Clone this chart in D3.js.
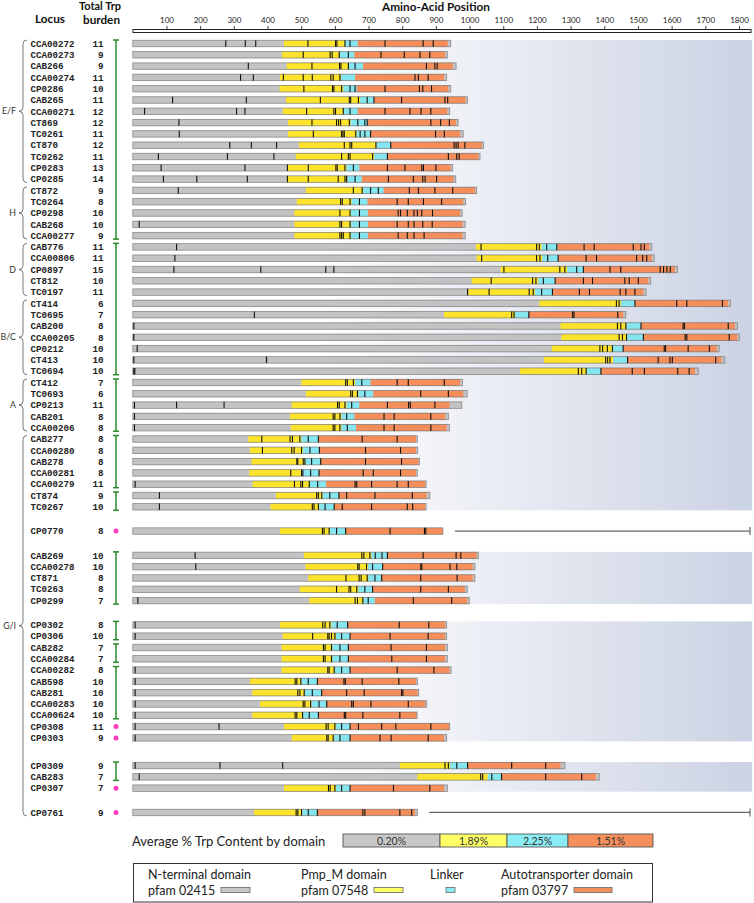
<!DOCTYPE html>
<html><head><meta charset="utf-8">
<script src="https://cdn.jsdelivr.net/npm/d3@7"></script>
<style>body{margin:0;background:#fff;} svg{display:block;}</style>
</head><body><svg id="chart" width="754" height="903"></svg>
<script>
// ---------------- DATA ----------------
const loci = ["CCA00272","CCA00273","CAB266","CCA00274","CP0286","CAB265","CCA00271","CT869","TC0261","CT870","TC0262","CP0283","CP0285",
"CT872","TC0264","CP0298","CAB268","CCA00277",
"CAB776","CCA00806","CP0897","CT812","TC0197",
"CT414","TC0695","CAB200","CCA00205","CP0212","CT413","TC0694",
"CT412","TC0693","CP0213","CAB201","CCA00206",
"CAB277","CCA00280","CAB278","CCA00281","CCA00279","CT874","TC0267","CP0770",
"CAB269","CCA00278","CT871","TC0263","CP0299",
"CP0302","CP0306","CAB282","CCA00284","CCA00282","CAB598","CAB281","CCA00283","CCA00624","CP0308","CP0303",
"CP0309","CAB283","CP0307","CP0761"];
const burden = [11,9,9,11,10,11,12,12,11,12,11,13,14, 9,8,10,10,9, 11,11,15,10,11, 6,7,8,8,10,10,10, 7,6,11,8,8,
8,8,8,8,11,9,10,8, 10,10,8,8,7, 8,10,7,7,8,10,10,10,10,11,9, 9,7,7,9];
// protein length (aa)
const protLength = [944,934,960,932,944,994,941,966,981,1041,1031,950,959, 1021,988,978,987,987, 1541,1548,1617,1538,1524,
1775,1464,1795,1801,1741,1758,1679, 979,993,977,937,940, 845,846,851,845,871,882,871,921, 1026,1016,1016,993,999,
932,932,934,934,945,845,849,873,844,941,932, 1283,1385,934,845];
// start of Pmp_M domain (end of N-terminal domain)
const pmpStart = [449,443,457,437,436,455,446,461,461,494,484,459,457, 514,487,480,480,480, 1019,1021,1092,1006,996,
1207,924,1270,1273,1244,1221,1150, 501,514,472,467,469, 343,348,353,346,356,425,409,437, 508,513,521,496,524,
437,445,442,442,442,348,355,378,355,449,472, 793,845,449,360];
// start of linker
const linkerStart = [630,615,640,618,625,675,625,647,665,724,717,635,637, 684,650,648,648,648, 1214,1216,1290,1204,1194,
1449,1135,1466,1468,1424,1427,1348, 660,670,635,620,620, 501,505,511,504,526,564,554,585, 709,699,699,670,685,
590,603,593,593,600,501,511,531,506,603,598, 942,1054,603,504];
// start of autotransporter domain
const autoStart = [668,658,684,660,665,716,668,696,706,766,756,673,680, 745,697,698,698,698, 1261,1263,1338,1254,1246,
1491,1176,1509,1516,1456,1469,1390, 706,714,673,658,663, 551,554,558,553,574,612,598,632, 756,742,739,712,719,
638,645,640,640,645,548,561,576,551,645,645, 994,1095,645,548];
// end of autotransporter domain
const autoEnd = [935,927,950,924,937,988,934,960,972,1036,1026,944,952, 1016,981,972,979,979, 1534,1541,1610,1531,1516,
1768,1456,1788,1795,1734,1748,1669, 972,981,940,927,932, 841,841,848,841,868,872,868,920, 1021,1009,1009,986,993,
927,927,927,927,940,841,845,868,843,940,924, 1270,1375,924,838];
// tryptophan positions
const trpPositions = [
[276,334,365,520,602,606,630,645,749,862,892],
[506,586,592,613,640,737,806,853,882],
[343,532,614,618,640,660,872,897,904],
[320,358,447,506,533,588,595,615,838,848,877],
[508,593,597,620,645,660,749,851,861,887],
[118,337,557,643,647,670,696,716,798,927,935],
[35,308,333,516,597,602,625,645,749,823,856,885],
[137,532,605,611,617,643,668,689,696,885,914,940],
[138,536,620,624,628,662,675,689,706,899,925],
[288,352,427,628,645,650,722,766,954,960,966,986],
[76,281,419,620,640,645,712,756,937,962,969],
[84,333,459,521,603,607,630,655,756,808,858,863,900],
[91,190,340,459,521,610,630,635,660,759,833,861,868,902],
[135,655,681,706,729,821,848,897,950],
[617,622,645,673,785,818,863,917],
[615,645,673,788,795,815,835,845,858,890],
[19,615,620,645,673,785,818,835,861,889],
[615,620,625,645,673,788,815,835,865],
[130,1034,1199,1207,1229,1259,1340,1370,1486,1509,1519],
[125,1036,1199,1209,1232,1263,1346,1377,1496,1514,1526],
[122,380,573,597,1102,1268,1283,1318,1338,1417,1449,1566,1576,1586,1596],
[1064,1187,1197,1219,1254,1338,1365,1461,1474,1501],
[994,1058,1177,1189,1214,1246,1326,1356,1447,1464,1491],
[1436,1444,1491,1615,1645,1751],
[361,1125,1132,1176,1306,1310,1440],
[3,1439,1449,1464,1509,1634,1638,1768],
[3,1444,1454,1466,1516,1640,1645,1771],
[13,1387,1395,1409,1424,1456,1578,1582,1649,1712],
[3,397,1404,1410,1417,1469,1560,1595,1602,1731],
[3,6,1323,1333,1346,1390,1483,1519,1618,1652],
[632,637,655,680,785,818,925],
[647,652,667,689,855,937],
[5,130,271,608,613,630,650,756,819,824,897],
[5,595,600,615,635,746,776,885],
[5,595,600,615,637,746,776,885],
[383,467,474,496,521,551,681,785],
[385,472,479,501,526,554,691,795],
[487,490,506,511,531,558,691,798],
[469,501,505,528,553,684,714,795],
[7,480,499,504,524,549,660,665,709,785,818],
[79,546,551,561,585,612,635,719,830],
[79,533,538,551,571,598,622,709,815,831],
[563,568,583,605,632,764,866,870],
[185,680,686,704,720,740,756,862,960,974],
[187,668,672,694,712,742,855,858,942,962],
[633,672,678,696,719,739,855,963],
[605,642,647,665,689,712,855,937],
[15,660,667,683,699,833,947],
[7,564,571,585,607,638,791,879],
[7,534,579,583,590,600,620,645,764,877],
[566,571,590,615,640,767,872],
[566,571,590,615,640,769,872],
[7,579,583,598,620,645,785,894],
[7,482,487,499,521,548,627,631,681,790],
[7,490,496,509,533,561,635,687,798,802],
[7,506,511,528,553,576,650,655,707,818],
[7,482,487,504,524,551,628,632,683,793],
[7,256,574,580,600,620,645,670,739,781,885],
[7,576,580,595,615,645,734,767,877],
[7,259,445,927,937,962,994,1125,1226],
[19,1033,1039,1066,1095,1226,1333],
[581,586,600,620,645,774,882],
[485,490,501,521,548,683,689,793,828]];

// grouping (row index ranges)
const familyNames = ["E/F","H","D","B/C","A","G/I"];
const familyFirst = [0,13,18,23,30,35];
const familyLast  = [12,17,22,29,34,62];
const cladeFirst = [0,18,30,35,40,43,48,50,52,59];
const cladeLast  = [17,29,34,39,41,47,49,51,56,60];
const singletons = [42,57,58,61,62];
const gapRows = [42,43,48,59,62];
const panelFirst = [0,43,48,59];
const panelLast  = [41,47,58,61];
const spanLineRows = [42,62];
const axisTicks = [100,200,300,400,500,600,700,800,900,1000,1100,1200,1300,1400,1500,1600,1700,1800];
const avgTrpLabels = ["0.20%","1.89%","2.25%","1.51%"];
const legendNames = ["N-terminal domain","Pmp_M domain","Linker","Autotransporter domain"];
const legendPfam = ["pfam 02415","pfam 07548","","pfam 03797"];

// ---------------- LAYOUT / STYLE ----------------
const C = {gray:"#c3c3c3", yellow:"#fde32c", cyan:"#85e6f0", orange:"#f58e5a"};
const LC = {gray:"#c8c8c8", yellow:"#ffff66", cyan:"#8cecf4", orange:"#f5905c"};
const svg = d3.select("#chart");
const defs = svg.append("defs");
const grad = defs.append("linearGradient").attr("id","bg").attr("gradientUnits","userSpaceOnUse")
  .attr("x1",133).attr("x2",752).attr("y1",0).attr("y2",0);
grad.append("stop").attr("offset",0).attr("stop-color","#ffffff");
grad.append("stop").attr("offset",0.3).attr("stop-color","#ffffff");
grad.append("stop").attr("offset",1).attr("stop-color","#cbd2e3");

const x = d3.scaleLinear().domain([0,1800]).range([132.8,739]);
const slotY = d3.scaleLinear().domain([0,1]).range([43.5,54.8]);
const gapSize = {42:1.15,43:1.15,48:1.15,59:1.45,62:1.15};
function rowY(i){ let s=i; gapRows.forEach(g=>{ if(g<=i) s+=gapSize[g]; }); return slotY(s); }
const barH = 6.5;
const fnt = "Lato, 'Open Sans', sans-serif";

// panels
panelFirst.forEach((f,k)=>{
  const y1 = rowY(f)-3.5, y2 = rowY(panelLast[k])+3.5;
  svg.append("rect").attr("x",133).attr("y",y1).attr("width",619).attr("height",y2-y1).attr("fill","url(#bg)");
});

// headers
const hdr = svg.append("g").attr("font-family",fnt).attr("font-weight","bold").attr("font-size",11).attr("fill","#111");
hdr.append("text").attr("x",35).attr("y",23).attr("font-size",11.5).attr("textLength",30).attr("lengthAdjust","spacingAndGlyphs").text("Locus");
hdr.append("text").attr("x",79).attr("y",9.5).attr("textLength",42).attr("lengthAdjust","spacingAndGlyphs").text("Total Trp");
hdr.append("text").attr("x",83).attr("y",23.5).attr("textLength",37).attr("lengthAdjust","spacingAndGlyphs").text("burden");
hdr.append("text").attr("x",382).attr("y",10.5).attr("font-size",12).attr("textLength",108).attr("lengthAdjust","spacingAndGlyphs").text("Amino-Acid Position");

// axis
svg.append("rect").attr("x",133).attr("y",29.5).attr("width",618).attr("height",3).attr("fill","#fff").attr("stroke","#222").attr("stroke-width",1);
const ax = svg.append("g").attr("transform","translate(0,29)")
  .call(d3.axisTop(x).tickValues(axisTicks).tickFormat(d3.format("d")).tickSize(3).tickPadding(3));
ax.select(".domain").remove();
ax.selectAll("text").attr("font-family",fnt).attr("font-size",8).attr("fill","#222");
ax.selectAll("line").attr("stroke","#444");

// rows
const rows = svg.append("g");
loci.forEach((name,i)=>{
  const y = rowY(i);
  rows.append("text").attr("x",30.5).attr("y",y+3.2).attr("font-family","'Liberation Mono','Courier New',monospace")
    .attr("font-weight","bold").attr("font-size",9.2).attr("fill","#222").text(name);
  rows.append("text").attr("x",103.5).attr("y",y+3.2).attr("text-anchor","end").attr("font-family","'Liberation Mono','Courier New',monospace")
    .attr("font-weight","bold").attr("font-size",9.2).attr("fill","#222").text(burden[i]);
  const g = rows.append("g").attr("transform",`translate(0,${y-barH/2})`);
  g.append("rect").attr("x",x(0)).attr("width",x(protLength[i])-x(0)).attr("height",barH).attr("fill",C.gray);
  const segs = [[pmpStart[i],linkerStart[i],C.yellow],[linkerStart[i],autoStart[i],C.cyan],[autoStart[i],autoEnd[i],C.orange]];
  segs.forEach(s=> g.append("rect").attr("x",x(s[0])).attr("width",x(s[1])-x(s[0])).attr("height",barH).attr("fill",s[2]));
  g.append("rect").attr("x",x(0)).attr("width",x(protLength[i])-x(0)).attr("height",barH).attr("fill","none")
    .attr("stroke","#6e6e6e").attr("stroke-opacity",0.75).attr("stroke-width",0.8);
  g.selectAll("line.trp").data(trpPositions[i]).enter().append("line")
    .attr("x1",d=>x(d)).attr("x2",d=>x(d)).attr("y1",0).attr("y2",barH).attr("stroke","#111").attr("stroke-width",1.1);
});

// span lines for orphan rows
spanLineRows.forEach(i=>{
  const y = rowY(i), xs = x(protLength[i])+12, xe = 750;
  svg.append("line").attr("x1",xs).attr("x2",xe).attr("y1",y).attr("y2",y).attr("stroke","#666").attr("stroke-width",1.2);
  svg.append("line").attr("x1",xe).attr("x2",xe).attr("y1",y-4).attr("y2",y+4).attr("stroke","#666").attr("stroke-width",1.2);
});

// clade brackets
const green = "#2b8a2b";
cladeFirst.forEach((f,k)=>{
  const y1 = rowY(f)-3.5, y2 = rowY(cladeLast[k])+3.5, bx = 116;
  const gg = svg.append("g").attr("stroke",green).attr("stroke-width",1.5);
  gg.append("line").attr("x1",bx).attr("x2",bx).attr("y1",y1).attr("y2",y2);
  gg.append("line").attr("x1",bx-3).attr("x2",bx+3).attr("y1",y1).attr("y2",y1);
  gg.append("line").attr("x1",bx-3).attr("x2",bx+3).attr("y1",y2).attr("y2",y2);
});
singletons.forEach(i=> svg.append("circle").attr("cx",116).attr("cy",rowY(i)).attr("r",2.5).attr("fill","#ff3dbd"));

// family braces
familyNames.forEach((nm,k)=>{
  const y1 = rowY(familyFirst[k])-3.5, y2 = rowY(familyLast[k])+3.5, ym=(y1+y2)/2;
  const xr=27, xm=23, xt=19, r=4;
  const p = `M${xr},${y1} Q${xm},${y1} ${xm},${y1+r} L${xm},${ym-r} Q${xm},${ym} ${xt},${ym} Q${xm},${ym} ${xm},${ym+r} L${xm},${y2-r} Q${xm},${y2} ${xr},${y2}`;
  svg.append("path").attr("d",p).attr("fill","none").attr("stroke","#555").attr("stroke-width",0.8);
  svg.append("text").attr("x",16).attr("y",ym+3).attr("text-anchor","end").attr("font-family",fnt)
    .attr("font-size",8.8).attr("fill","#333").text(nm);
});

// average Trp content bar
svg.append("text").attr("x",132).attr("y",846).attr("font-family",fnt).attr("font-size",13).attr("fill","#222").text("Average % Trp Content by domain");
const avgEdges = [343,440,507,568,653];
const avgCols = [LC.gray,LC.yellow,LC.cyan,LC.orange];
avgTrpLabels.forEach((t,k)=>{
  svg.append("rect").attr("x",avgEdges[k]).attr("y",834).attr("width",avgEdges[k+1]-avgEdges[k]).attr("height",13)
    .attr("fill",avgCols[k]).attr("stroke","#555").attr("stroke-width",0.9);
  svg.append("text").attr("x",(avgEdges[k]+avgEdges[k+1])/2).attr("y",844.5).attr("text-anchor","middle")
    .attr("font-family",fnt).attr("font-size",10.5).attr("fill","#333").text(t);
});

// legend
svg.append("rect").attr("x",133.5).attr("y",863.5).attr("width",519).attr("height",38.5).attr("fill","none").attr("stroke","#333").attr("stroke-width",1);
const legX = [148,301,430,501];
const swX = [[221,250],[374,403],[446,455],[574,612]];
legendNames.forEach((nm,k)=>{
  svg.append("text").attr("x",legX[k]).attr("y",879).attr("font-family",fnt).attr("font-size",12.5).attr("fill","#222").text(nm);
  if(legendPfam[k]) svg.append("text").attr("x",legX[k]).attr("y",894.5).attr("font-family",fnt).attr("font-size",12.5).attr("fill","#222").text(legendPfam[k]);
  svg.append("rect").attr("x",swX[k][0]).attr("y",887.5).attr("width",swX[k][1]-swX[k][0]).attr("height",5)
    .attr("fill",avgCols[k]).attr("stroke","#666").attr("stroke-width",0.8);
});
</script></body></html>
